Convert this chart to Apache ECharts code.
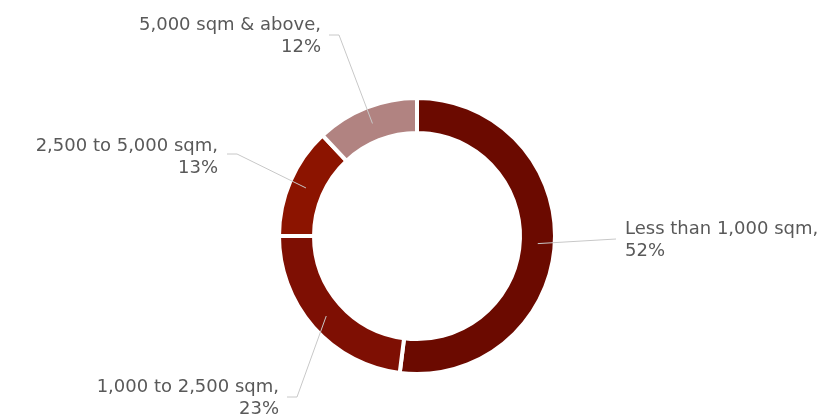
<!DOCTYPE html>
<html><head><meta charset="utf-8">
<script src="https://cdn.jsdelivr.net/npm/echarts@6/dist/echarts.min.js"></script>
<style>html,body{margin:0;padding:0;background:#fff}#c{width:824px;height:416px}</style>
</head><body><div id="c"></div>
<script>
const categories = ["Less than 1,000 sqm", "1,000 to 2,500 sqm", "2,500 to 5,000 sqm", "5,000 sqm & above"];
const shares = [52, 23, 13, 12];
const colors = ["#6B0A00", "#7E0F03", "#8C1400", "#B18381"];

// label placement (layout only): anchor x, y, align, elbow point
const labelPos = [
  {x: 625, y: 240, align: 'left',  elbow: [616, 239], end: [616, 239]},
  {x: 279, y: 398, align: 'right', elbow: [297, 397], end: [287, 397]},
  {x: 218, y: 157, align: 'right', elbow: [237, 154], end: [227, 154]},
  {x: 321, y: 36,  align: 'right', elbow: [339, 35],  end: [329, 35]}
];
const CX = 417, CY = 236, R_OUT = 138, R_IN = 103, R_LINE = 121;

const chart = echarts.init(document.getElementById('c'), null, {renderer: 'canvas'});
const ringData = categories.map((c, i) => ({name: c, value: shares[i], itemStyle: {color: colors[i]}}));
const labelData = categories.map((c, i) => ({name: c, value: shares[i]}));

chart.setOption({
  animation: false,
  series: [{
    type: 'pie',
    z: 2,
    center: [CX, CY],
    radius: [R_IN, R_OUT],
    startAngle: 90,
    clockwise: true,
    data: ringData,
    itemStyle: {borderColor: '#fff', borderWidth: 4},
    label: {show: false},
    labelLine: {show: false},
    silent: true
  }, {
    type: 'pie',
    z: 5,
    center: [CX, CY],
    radius: [R_IN, R_OUT],
    startAngle: 90,
    clockwise: true,
    data: labelData,
    itemStyle: {color: 'rgba(0,0,0,0)', borderWidth: 0},
    silent: true,
    label: {
      show: true,
      formatter: p => p.name + ',\n' + p.value + '%',
      fontFamily: 'DejaVu Sans',
      fontSize: 18,
      lineHeight: 22,
      color: '#595959'
    },
    labelLine: {show: true, lineStyle: {color: '#c8c8c8', width: 1}},
    labelLayout: function (params) {
      const i = params.dataIndex;
      const L = labelPos[i];
      const p0 = params.labelLinePoints ? params.labelLinePoints[0] : [CX, CY];
      const dx = p0[0] - CX, dy = p0[1] - CY;
      const d = Math.sqrt(dx * dx + dy * dy) || 1;
      const start = [CX + dx / d * R_LINE, CY + dy / d * R_LINE];
      return {
        x: L.x, y: L.y, align: L.align, verticalAlign: 'middle',
        labelLinePoints: [start, L.elbow, L.end]
      };
    }
  }]
});
</script></body></html>
